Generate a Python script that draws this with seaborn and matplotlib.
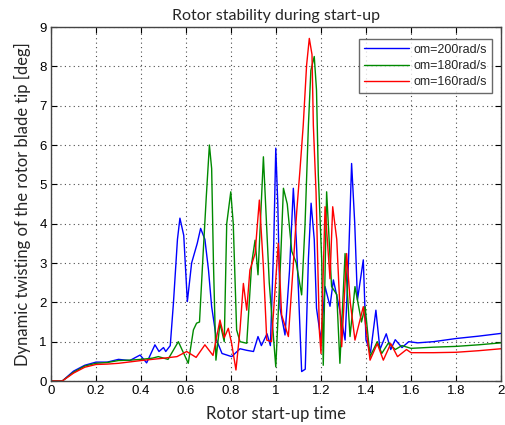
import numpy as np
import pandas as pd
import matplotlib
matplotlib.use("Agg")
import matplotlib.pyplot as plt
import seaborn as sns

series_names = ["om=200rad/s", "om=180rad/s", "om=160rad/s"]
colors = ["#0000ff", "#008a00", "#ff0000"]

t_blue = [0, 0.05, 0.1, 0.15, 0.2, 0.25, 0.3, 0.35, 0.396, 0.425, 0.462, 0.48, 0.5, 0.51, 0.53,
          0.544, 0.562, 0.573, 0.59, 0.606, 0.625, 0.65, 0.665, 0.684, 0.7, 0.714, 0.736, 0.76,
          0.803, 0.84, 0.87, 0.9, 0.92, 0.935, 0.96, 0.975, 0.99, 0.999, 1.008, 1.018, 1.04,
          1.06, 1.077, 1.09, 1.1, 1.114, 1.13, 1.144, 1.156, 1.17, 1.18,
          1.2, 1.218, 1.24, 1.255, 1.28, 1.307, 1.322, 1.336, 1.35, 1.362, 1.388, 1.4, 1.42, 1.444,
          1.462, 1.49, 1.51, 1.53, 1.56, 1.59, 1.63, 1.7, 1.8, 1.9, 2.0]
v_blue = [0, 0, 0.25, 0.4, 0.48, 0.48, 0.55, 0.52, 0.66, 0.46, 0.92, 0.75, 0.85, 0.75, 0.9,
          1.97, 3.6, 4.14, 3.7, 2.02, 3.0, 3.5, 3.88, 3.6, 2.82, 1.89, 1.04, 0.7,
          0.62, 0.82, 0.78, 0.75, 1.13, 0.9, 1.2, 0.9, 3.5, 5.92, 4.5, 1.85, 1.17,
          2.8, 4.9, 3.6, 2.27, 0.24, 0.3, 3.1, 4.52, 3.6, 1.85,
          1.04, 2.4, 1.9, 2.57, 1.9, 1.04, 3.0, 5.53, 4.0, 2.06, 3.08, 1.04, 0.72, 1.8,
          0.8, 1.2, 0.8, 1.05, 0.85, 1.0, 0.97, 1.0, 1.08, 1.14, 1.21]

t_green = [0, 0.05, 0.1, 0.15, 0.2, 0.25, 0.3, 0.35, 0.4, 0.45, 0.477, 0.52, 0.566, 0.61, 0.633,
           0.647, 0.66, 0.677, 0.69, 0.704, 0.714, 0.722, 0.733, 0.751, 0.77, 0.781, 0.799, 0.81,
           0.825, 0.84, 0.87, 0.892, 0.907, 0.92, 0.944, 0.97, 0.999, 1.02, 1.033, 1.05, 1.07,
           1.09, 1.114, 1.129, 1.144, 1.155, 1.17, 1.18, 1.188, 1.203, 1.21, 1.225, 1.247, 1.27,
           1.284, 1.307, 1.329, 1.351, 1.38, 1.396,
           1.418, 1.45, 1.47, 1.5, 1.53, 1.56, 1.6, 1.7, 1.8, 1.9, 2.0]
v_green = [0, 0, 0.22, 0.38, 0.45, 0.47, 0.52, 0.53, 0.55, 0.58, 0.62, 0.55, 1.0, 0.45, 1.3,
           1.47, 1.5, 3.33, 4.67, 6.0, 5.4, 3.0, 0.53, 1.47, 1.0, 4.0, 4.81, 4.0,
           1.3, 1.0, 0.96, 3.0, 3.58, 2.7, 5.7, 2.5, 0.36, 3.0, 4.9, 4.5, 3.3,
           3.0, 2.19, 3.97, 6.5, 7.9, 8.25, 7.4, 5.24, 3.1, 0.4, 4.81, 2.4, 2.2,
           0.45, 3.24, 1.13, 2.4, 1.5, 1.89,
           0.62, 1.0, 0.7, 0.97, 0.8, 0.9, 0.83, 0.86, 0.88, 0.92, 0.97]

t_red = [0, 0.05, 0.1, 0.15, 0.2, 0.25, 0.3, 0.4, 0.5, 0.56, 0.603, 0.645, 0.684, 0.72, 0.751,
         0.77, 0.788, 0.803, 0.822, 0.84, 0.855, 0.87, 0.884, 0.907, 0.926, 0.944, 0.959, 0.98,
         1.01, 1.025, 1.055, 1.075, 1.092, 1.107, 1.121, 1.136, 1.148, 1.16, 1.166, 1.178,
         1.193, 1.2, 1.218, 1.24,
         1.252, 1.27, 1.292, 1.314, 1.33, 1.351, 1.388, 1.418, 1.45, 1.477, 1.51, 1.54, 1.58,
         1.6, 1.7, 1.8, 1.9, 2.0]
v_red = [0, 0, 0.2, 0.35, 0.42, 0.43, 0.45, 0.52, 0.58, 0.62, 0.75, 0.6, 0.92, 0.65, 1.55,
         1.1, 1.34, 0.95, 0.28, 1.3, 2.48, 1.8, 2.82, 3.24, 4.6, 2.9, 1.04, 1.0,
         3.5, 1.68, 1.13, 2.8, 4.3, 5.4, 6.5, 8.03, 8.71, 8.3, 6.5, 4.8,
         1.25, 0.7, 4.43, 2.6,
         4.43, 3.6, 0.87, 3.24, 2.0, 1.04, 1.89, 0.53, 0.95, 0.53, 0.95, 0.62, 0.8,
         0.72, 0.72, 0.73, 0.77, 0.82]

x_ticks = [0, 0.2, 0.4, 0.6, 0.8, 1, 1.2, 1.4, 1.6, 1.8, 2]
x_tick_labels = ["0", "0.2", "0.4", "0.6", "0.8", "1", "1.2", "1.4", "1.6", "1.8", "2"]
y_ticks = list(range(10))

frames = []
for name, t, v in zip(series_names, [t_blue, t_green, t_red], [v_blue, v_green, v_red]):
    frames.append(pd.DataFrame({"t": t, "v": v, "series": name}))
df = pd.concat(frames, ignore_index=True)

sns.set_style("white")
plt.rcParams["font.family"] = ["Liberation Sans", "DejaVu Sans"]

fig = plt.figure(figsize=(5.06, 4.25), dpi=100)
ax = fig.add_axes([51 / 506, 44 / 425, 450 / 506, 354 / 425])

sns.lineplot(data=df, x="t", y="v", hue="series", palette=dict(zip(series_names, colors)),
             estimator=None, sort=False, linewidth=1.0, ax=ax)

ax.set_xlim(0, 2)
ax.set_ylim(0, 9)
ax.set_xticks(x_ticks)
ax.set_xticklabels(x_tick_labels)
ax.set_yticks(y_ticks)
ax.grid(True, linestyle=(0, (1, 3)), color="black", linewidth=0.8, alpha=0.7)
ax.tick_params(direction="in", length=4, labelsize=9.5, colors="black", top=True, right=True,
               bottom=True, left=True, pad=3)
for s in ax.spines.values():
    s.set_color("#444444")
    s.set_linewidth(1.0)

ax.set_title("Rotor stability during start-up", fontsize=11.5, family=["Lato", "DejaVu Sans"], pad=5)
ax.set_xlabel("Rotor start-up time", fontsize=12, family=["Lato", "DejaVu Sans"], labelpad=6)
ax.set_ylabel("Dynamic twisting of the rotor blade tip [deg]", fontsize=12,
              family=["Lato", "DejaVu Sans"], labelpad=6)

leg = ax.legend(loc="upper right", fontsize=9, frameon=True, fancybox=False,
                borderpad=0.4, handlelength=3.6, labelspacing=0.35, handletextpad=0.3,
                bbox_to_anchor=(0.993, 0.985))
leg.get_frame().set_edgecolor("#444444")
leg.get_frame().set_linewidth(1.0)

fig.savefig("out.png", dpi=100)
